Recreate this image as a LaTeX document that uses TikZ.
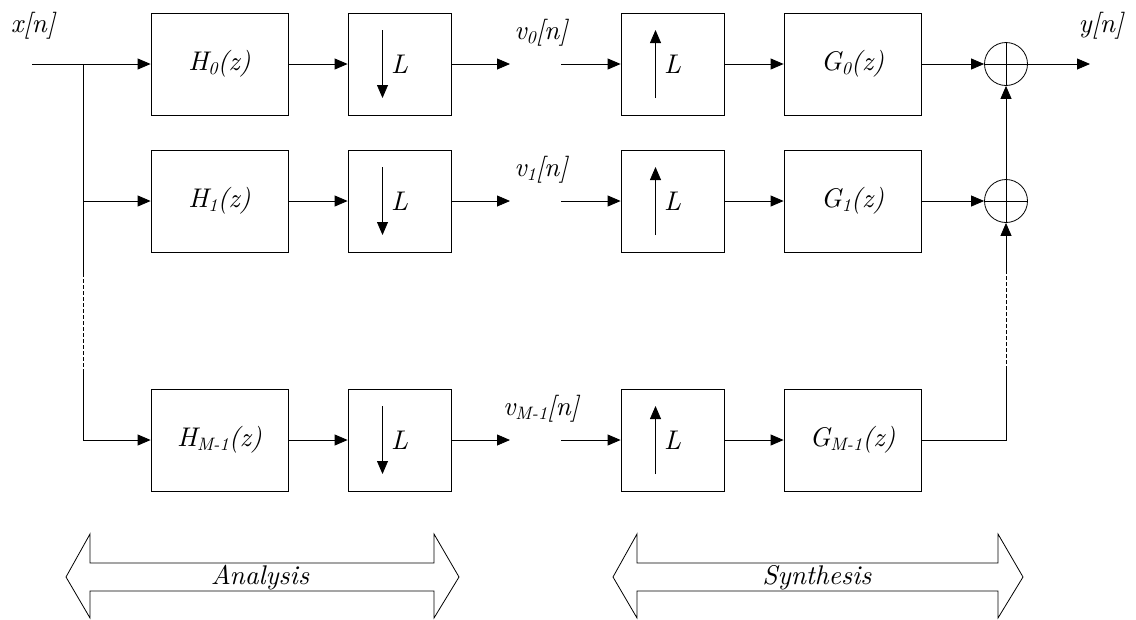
\documentclass[tikz,border=0pt]{standalone}
\usepackage{fontspec}
\newfontfamily\lmi{lmroman10-italic}[Extension=.otf]
\usetikzlibrary{arrows.meta}
\newcommand{\lowsub}[1]{\raisebox{-4pt}{\fontsize{18}{18}\selectfont #1}}
\begin{document}
\begin{tikzpicture}[x=1pt,y=-1pt,
  font=\lmi\fontsize{27}{32}\selectfont,
  blk/.style={draw, line width=0.8pt, minimum width=137pt, minimum height=102pt, inner sep=0pt},
  rsmp/.style={draw, line width=0.8pt, minimum width=103pt, minimum height=102pt, inner sep=0pt},
  sumnode/.style={draw, circle, minimum size=43pt, inner sep=0pt, line width=0.8pt},
  conn/.style={line width=0.8pt, -{Triangle[length=13pt,width=11pt]}},
  wire/.style={line width=0.8pt},
  dashwire/.style={line width=0.8pt, dash pattern=on 4pt off 2pt},
  bigarrow/.style={draw, line width=0.8pt}]
\useasboundingbox (0,0) rectangle (1136,619);
% rows
\foreach \r/\yy/\s in {0/64/0, 1/201/1, 2/440/M-1}{
  \node[blk] (H\r) at (219.5,\yy) {H\lowsub{\s}(z)};
  \node[rsmp] (D\r) at (399.5,\yy) {L};
  \coordinate (o\r) at (510,\yy);
  \coordinate (i\r) at (561,\yy);
  \node[rsmp] (U\r) at (672.5,\yy) {L};
  \node[blk] (G\r) at (852.5,\yy) {G\lowsub{\s}(z)};
  \node (v\r) at (541,\yy-31) {v\lowsub{\s}[n]};
  \draw[conn] (H\r.east) -- (D\r.west);
  \draw[conn] (D\r.east) -- (o\r);
  \draw[conn] (i\r) -- (U\r.west);
  \draw[conn] (U\r.east) -- (G\r.west);
  \draw[conn] ([shift={(-17,-34)}]D\r.center) -- ([shift={(-17,34)}]D\r.center);
  \draw[conn] ([shift={(-17,34)}]U\r.center) -- ([shift={(-17,-34)}]U\r.center);
}
% summing nodes
\node[sumnode] (S0) at (1006,64) {};
\node[sumnode] (S1) at (1006,201) {};
\foreach \k in {S0,S1}{
  \draw[wire] (\k.north) -- (\k.south);
  \draw[wire] (\k.west) -- (\k.east);
}
% input side
\coordinate (xin) at (32,64);
\coordinate (br) at (83,64);
\coordinate (b1) at (83,273);
\coordinate (b2) at (83,373);
\node (lx) at (33,26) {x[n]};
\draw[conn] (xin) -- (H0.west);
\draw[conn] (br) |- (H1.west);
\draw[wire] (br) -- (b1);
\draw[dashwire] (b1) -- (b2);
\draw[conn] (b2) |- (H2.west);
% output side
\coordinate (yout) at (1090,64);
\node (ly) at (1101,26) {y[n]};
\draw[conn] (G0.east) -- (S0.west);
\draw[conn] (G1.east) -- (S1.west);
\draw[conn] (S0.east) -- (yout);
\draw[conn] (S1.north) -- (S0.south);
\coordinate (r2) at (1006,440);
\coordinate (r1) at (1006,370);
\coordinate (r0) at (1006,270);
\draw[wire] (G2.east) -- (r2) -- (r1);
\draw[dashwire] (r1) -- (r0);
\draw[conn] (r0) -- (S1.south);
% big double arrows
\draw[bigarrow] (66,577) -- (90,534) -- (90,563) -- (434,563) -- (434,534) -- (459,577)
  -- (434,618) -- (434,591) -- (90,591) -- (90,618) -- cycle;
\node (an) at (260,578) {Analysis};
\draw[bigarrow] (613,577) -- (637,534) -- (637,563) -- (998,563) -- (998,534) -- (1023,577)
  -- (998,618) -- (998,591) -- (637,591) -- (637,618) -- cycle;
\node (sy) at (817,578) {Synthesis};
\end{tikzpicture}
\end{document}
